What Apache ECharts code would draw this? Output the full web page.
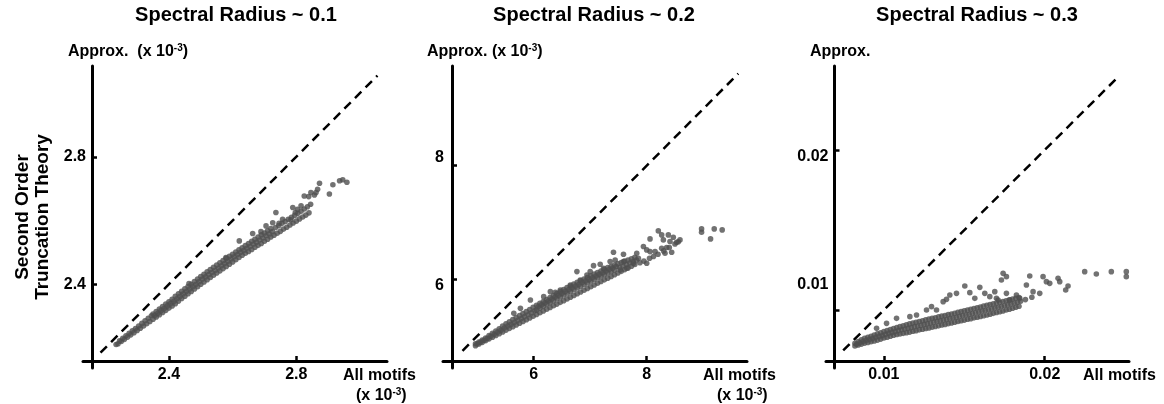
<!DOCTYPE html>
<html>
<head>
<meta charset="utf-8">
<script src="https://cdn.jsdelivr.net/npm/echarts@6.0.0/dist/echarts.min.js"></script>
<style>
  html, body { margin: 0; padding: 0; background: #fff; }
  #chart { width: 1164px; height: 404px; }
</style>
</head>
<body>
<div id="chart"></div>
<script>
const FONT = '"Liberation Sans", Arial, Helvetica, sans-serif';

// titles and axis texts
const titles = ['Spectral Radius ~ 0.1', 'Spectral Radius ~ 0.2', 'Spectral Radius ~ 0.3'];
const yNames = ['Approx.  (x 10', 'Approx. (x 10', 'Approx.'];
const xUnits = ['(x 10', '(x 10', ''];

// axis ranges (x 10^-3 for the first two panels)
const xRange1 = [2.130, 3.085], yRange1 = [2.137, 3.085];
const xRange2 = [4.395, 9.775], yRange2 = [4.438, 9.755];
const xRange3 = [0.0064, 0.02524], yRange3 = [0.006375, 0.02525];

// ticks and tick labels
const ticks1 = [2.4, 2.8], tickLabels1 = ['2.4', '2.8'], yLabelPos1 = [2.4, 2.8];
const ticks2 = [6, 8], tickLabels2 = ['6', '8'], yLabelPos2 = [5.882, 8.136];
const ticks3 = [0.01, 0.02], tickLabels3 = ['0.01', '0.02'], yLabelPos3 = [0.01156, 0.01958];

// identity reference lines (start, end)
const diag1 = [2.185, 3.055];
const diag2 = [4.74, 9.62];
const diag3 = [0.00747, 0.02462];

// [all motifs, approx]  spectral radius ~ 0.1
const pts1 = [
  [2.234,2.211],
  [2.24,2.213],[2.245,2.222],[2.25,2.220],[2.255,2.230],[2.26,2.227],[2.265,2.238],
  [2.27,2.234],[2.275,2.246],[2.28,2.241],[2.285,2.254],[2.29,2.248],[2.295,2.261],
  [2.30,2.255],[2.305,2.269],[2.31,2.262],[2.315,2.277],[2.32,2.269],[2.325,2.285],
  [2.33,2.276],[2.335,2.293],[2.34,2.283],[2.345,2.301],
  [2.35,2.290],[2.355,2.302],[2.35,2.306],
  [2.36,2.297],[2.365,2.309],[2.36,2.314],
  [2.37,2.304],[2.375,2.317],[2.37,2.322],
  [2.38,2.311],[2.385,2.324],[2.38,2.330],
  [2.39,2.318],[2.395,2.332],[2.39,2.338],
  [2.40,2.325],[2.405,2.339],[2.40,2.345],
  [2.41,2.332],[2.415,2.346],[2.41,2.353],
  [2.42,2.339],[2.425,2.354],[2.42,2.362],
  [2.43,2.347],[2.435,2.362],[2.43,2.370],
  [2.44,2.355],[2.445,2.370],[2.44,2.378],
  [2.45,2.362],[2.455,2.378],[2.45,2.386],
  [2.46,2.370],[2.465,2.385],[2.46,2.393],
  [2.47,2.377],[2.475,2.392],[2.47,2.400],
  [2.48,2.385],[2.485,2.400],[2.48,2.408],
  [2.49,2.392],[2.495,2.408],[2.49,2.416],
  [2.50,2.400],[2.505,2.416],[2.50,2.424],
  [2.51,2.407],[2.515,2.423],[2.51,2.431],
  [2.52,2.414],[2.525,2.430],[2.52,2.439],
  [2.53,2.421],[2.535,2.437],[2.53,2.446],
  [2.54,2.428],[2.545,2.444],[2.54,2.453],
  [2.55,2.435],[2.555,2.451],[2.55,2.460],
  [2.56,2.442],[2.565,2.458],[2.56,2.467],
  [2.57,2.449],[2.575,2.465],[2.57,2.474],
  [2.58,2.456],[2.585,2.472],[2.58,2.481],
  [2.59,2.463],[2.595,2.479],[2.59,2.488],
  [2.60,2.470],[2.605,2.486],[2.60,2.494],
  [2.61,2.477],[2.615,2.493],[2.61,2.501],
  [2.62,2.484],[2.625,2.500],[2.62,2.508],
  [2.63,2.491],[2.635,2.506],[2.63,2.514],
  [2.64,2.497],[2.645,2.513],[2.64,2.521],
  [2.65,2.503],[2.655,2.519],[2.65,2.528],
  [2.66,2.509],[2.665,2.526],[2.66,2.535],
  [2.67,2.516],[2.675,2.532],[2.67,2.541],
  [2.68,2.522],[2.685,2.539],[2.68,2.548],
  [2.69,2.528],[2.695,2.545],[2.69,2.555],
  [2.70,2.535],[2.705,2.552],[2.70,2.561],
  [2.71,2.541],[2.715,2.558],[2.71,2.568],
  [2.72,2.548],[2.725,2.565],[2.72,2.575],
  [2.73,2.554],[2.735,2.578],[2.74,2.560],[2.745,2.584],
  [2.75,2.566],[2.755,2.591],[2.76,2.573],[2.765,2.597],
  [2.77,2.579],[2.775,2.604],[2.78,2.586],[2.785,2.610],
  [2.79,2.592],[2.795,2.616],[2.80,2.598],[2.805,2.623],
  [2.81,2.605],[2.815,2.629],[2.82,2.611],[2.825,2.636],
  [2.83,2.617],[2.835,2.643],[2.84,2.624],[2.845,2.651],
  [2.959,2.720],[2.946,2.728],[2.936,2.725],[2.915,2.712],[2.904,2.683],
  [2.873,2.717],[2.867,2.698],[2.857,2.680],[2.846,2.688],[2.839,2.675],
  [2.862,2.688],[2.825,2.677],[2.815,2.646],[2.804,2.635],[2.797,2.625],
  [2.789,2.641],[2.783,2.602],[2.757,2.604],[2.746,2.591],[2.736,2.625],
  [2.726,2.593],[2.705,2.583],[2.689,2.565],[2.663,2.559],[2.621,2.536],
  [2.579,2.484],[2.463,2.402]
];

// spectral radius ~ 0.2
const pts2 = [
  [4.97,4.829],[5.00,4.863],[4.97,4.865],
  [5.03,4.860],[5.06,4.895],[5.03,4.897],
  [5.09,4.890],[5.12,4.926],[5.09,4.930],
  [5.15,4.920],[5.18,4.959],[5.15,4.965],
  [5.21,4.951],[5.24,4.997],[5.21,5.010],
  [5.27,4.981],[5.30,5.032],[5.27,5.050],
  [5.33,5.012],[5.36,5.067],[5.33,5.090],
  [5.39,5.043],[5.42,5.103],[5.39,5.130],
  [5.45,5.074],[5.48,5.141],[5.45,5.175],
  [5.51,5.105],[5.54,5.176],[5.51,5.215],
  [5.57,5.136],[5.60,5.209],[5.57,5.250],
  [5.63,5.166],[5.66,5.244],[5.63,5.290],
  [5.69,5.197],[5.72,5.277],[5.69,5.325],
  [5.75,5.227],[5.78,5.310],[5.75,5.360],
  [5.81,5.258],[5.84,5.343],[5.81,5.395],
  [5.87,5.288],[5.90,5.375],[5.87,5.430],
  [5.93,5.319],[5.96,5.408],[5.93,5.465],
  [5.99,5.350],[6.02,5.444],[5.99,5.505],
  [6.05,5.380],[6.05,5.460],[6.05,5.540],[6.08,5.516],
  [6.11,5.411],[6.11,5.493],[6.11,5.575],[6.14,5.550],
  [6.17,5.441],[6.17,5.526],[6.17,5.610],[6.20,5.584],
  [6.23,5.472],[6.23,5.559],[6.23,5.645],[6.26,5.618],
  [6.29,5.502],[6.29,5.591],[6.29,5.680],[6.32,5.652],
  [6.35,5.533],[6.35,5.624],[6.35,5.715],[6.38,5.686],
  [6.41,5.563],[6.41,5.657],[6.41,5.750],[6.44,5.720],
  [6.47,5.594],[6.47,5.690],[6.47,5.785],[6.50,5.754],
  [6.53,5.624],[6.53,5.722],[6.53,5.820],[6.56,5.787],
  [6.59,5.655],[6.59,5.755],[6.59,5.855],[6.62,5.821],
  [6.65,5.685],[6.65,5.783],[6.65,5.880],[6.68,5.848],
  [6.71,5.716],[6.71,5.816],[6.71,5.915],[6.74,5.882],
  [6.77,5.746],[6.77,5.846],[6.77,5.945],[6.80,5.912],
  [6.83,5.777],[6.83,5.876],[6.83,5.975],[6.86,5.942],
  [6.89,5.807],[6.89,5.906],[6.89,6.005],[6.92,5.972],
  [6.95,5.838],[6.95,5.934],[6.95,6.030],[6.98,5.998],
  [7.01,5.868],[7.01,5.964],[7.01,6.060],[7.04,6.028],
  [7.07,5.899],[7.07,5.995],[7.07,6.090],[7.10,6.059],
  [7.13,5.929],[7.13,6.025],[7.13,6.120],[7.16,6.089],
  [7.19,5.960],[7.19,6.053],[7.19,6.145],[7.22,6.115],
  [7.25,5.990],[7.25,6.083],[7.25,6.175],[7.28,6.145],
  [7.31,6.020],[7.31,6.113],[7.31,6.205],[7.34,6.175],
  [7.37,6.050],[7.37,6.138],[7.37,6.225],[7.40,6.198],
  [7.43,6.080],[7.43,6.165],[7.43,6.250],[7.46,6.224],
  [7.49,6.110],[7.52,6.209],[7.49,6.275],
  [7.55,6.140],[7.58,6.234],[7.55,6.295],
  [7.61,6.170],[7.64,6.261],[7.61,6.320],
  [7.67,6.200],[7.70,6.286],[7.67,6.340],
  [7.73,6.230],[7.76,6.311],[7.73,6.360],
  [7.79,6.260],[7.82,6.339],[7.79,6.385],
  [7.88,6.29],[7.95,6.32],[8.05,6.37],[8.12,6.40],[8.20,6.44],
  [8.30,6.50],[8.40,6.56],[8.50,6.62],[8.56,6.66],
  [8.206,6.852],[8.383,6.781],[8.471,6.740],[8.589,6.693],[8.530,6.652],
  [8.059,6.711],[8.295,6.693],[8.265,6.546],[8.324,6.458],[8.442,6.476],
  [8.353,6.558],[8.148,6.487],[7.942,6.576],[8.000,6.517],[7.824,6.458],
  [7.853,6.370],[7.765,6.282],[7.589,6.440],[7.412,6.476],[7.442,6.340],
  [7.589,6.311],[7.177,6.264],[7.059,6.240],[6.765,6.135],[6.942,6.076],
  [6.648,5.899],[6.383,5.770],[6.295,5.782],[5.942,5.635],[5.648,5.400],
  [8.000,6.282],[7.530,6.164],[7.648,6.193],[8.059,6.487],[8.412,6.664],
  [8.265,6.781],
  [5.765,5.488],[6.177,5.694],[6.471,5.811],[6.824,5.988],[7.000,6.135],
  [7.236,6.193],[7.353,6.311],
  [8.971,6.887],[8.971,6.828],[9.195,6.887],[9.336,6.869],[9.130,6.711]
];

// spectral radius ~ 0.3
const pts3 = [
  [0.0082,0.00775],[0.0083,0.00786],[0.0082,0.00792],
  [0.0084,0.00781],[0.0085,0.00795],[0.0084,0.00803],
  [0.0086,0.00787],[0.0087,0.00803],[0.0086,0.00813],
  [0.0088,0.00793],[0.0089,0.00811],[0.0088,0.00823],
  [0.0090,0.00797],[0.0091,0.00817],[0.0090,0.00830],
  [0.0092,0.00802],[0.0093,0.00822],[0.0092,0.00836],
  [0.0094,0.00807],[0.0095,0.00829],[0.0094,0.00844],
  [0.0096,0.00812],[0.0097,0.00835],[0.0096,0.00851],
  [0.0098,0.00818],[0.0099,0.00841],[0.0098,0.00858],
  [0.0100,0.00825],[0.0101,0.00848],[0.0100,0.00865],
  [0.0102,0.00830],[0.0103,0.00854],[0.0102,0.00871],
  [0.0104,0.00836],[0.0105,0.00860],[0.0104,0.00878],
  [0.0106,0.00842],[0.0107,0.00866],[0.0106,0.00884],
  [0.0108,0.00847],[0.0109,0.00872],[0.0108,0.00890],
  [0.0110,0.00850],[0.0111,0.00876],[0.0110,0.00896],
  [0.0112,0.00854],[0.0113,0.00881],[0.0112,0.00902],
  [0.0114,0.00858],[0.0115,0.00886],[0.0114,0.00908],
  [0.0116,0.00862],[0.0117,0.00891],[0.0116,0.00913],
  [0.0118,0.00867],[0.0119,0.00896],[0.0118,0.00918],
  [0.0120,0.00871],[0.0121,0.00900],[0.0120,0.00923],
  [0.0122,0.00876],[0.0123,0.00905],[0.0122,0.00928],
  [0.0124,0.00880],[0.0125,0.00910],[0.0124,0.00933],
  [0.0126,0.00884],[0.0127,0.00914],[0.0126,0.00938],
  [0.0128,0.00888],[0.0129,0.00919],[0.0128,0.00943],
  [0.0130,0.00893],[0.0131,0.00924],[0.0130,0.00948],
  [0.0132,0.00897],[0.0133,0.00928],[0.0132,0.00952],
  [0.0134,0.00901],[0.0135,0.00932],[0.0134,0.00957],
  [0.0136,0.00906],[0.0137,0.00937],[0.0136,0.00962],
  [0.0138,0.00910],[0.0139,0.00941],[0.0138,0.00966],
  [0.0140,0.00915],[0.0141,0.00946],[0.0140,0.00971],
  [0.0142,0.00919],[0.0143,0.00950],[0.0142,0.00975],
  [0.0144,0.00924],[0.0145,0.00955],[0.0144,0.00980],
  [0.0146,0.00928],[0.0147,0.00960],[0.0146,0.00985],
  [0.0148,0.00933],[0.0149,0.00965],[0.0148,0.00990],
  [0.0150,0.00937],[0.0151,0.00969],[0.0150,0.00995],
  [0.0152,0.00942],[0.0153,0.00973],[0.0152,0.00999],
  [0.0154,0.00946],[0.0155,0.00978],[0.0154,0.01004],
  [0.0156,0.00951],[0.0157,0.00983],[0.0156,0.01009],
  [0.0158,0.00955],[0.0159,0.00988],[0.0158,0.01014],
  [0.0160,0.00960],[0.0161,0.00993],[0.0160,0.01019],
  [0.0162,0.00964],[0.0163,0.00997],[0.0162,0.01024],
  [0.0164,0.00969],[0.0165,0.01002],[0.0164,0.01029],
  [0.0166,0.00974],[0.0167,0.01007],[0.0166,0.01034],
  [0.0168,0.00979],[0.0169,0.01012],[0.0168,0.01038],
  [0.0170,0.00984],[0.0171,0.01017],[0.0170,0.01043],
  [0.0172,0.00989],[0.0173,0.01022],[0.0172,0.01048],
  [0.0174,0.00994],[0.0175,0.01027],[0.0174,0.01053],
  [0.0176,0.01000],[0.0177,0.01032],[0.0176,0.01058],
  [0.0178,0.01005],[0.0179,0.01037],[0.0178,0.01063],
  [0.0180,0.01011],[0.0181,0.01043],[0.0180,0.01068],
  [0.0182,0.01017],[0.0183,0.01048],[0.0182,0.01073],
  [0.0184,0.01023],[0.0185,0.01054],[0.0184,0.01078],
  [0.0188,0.01065],[0.0192,0.0108],
  [0.017412,0.012292],[0.017619,0.012083],[0.017308,0.011875],[0.019068,0.012125],
  [0.019896,0.012083],[0.018861,0.011563],[0.019275,0.011146],[0.019689,0.011042],
  [0.020311,0.011667],[0.020104,0.011771],[0.020828,0.011979],[0.020932,0.011771],
  [0.02145,0.0115],[0.021304,0.01125],[0.015031,0.0115],[0.015963,0.011417],
  [0.014099,0.010938],[0.012961,0.010208],[0.014514,0.011042],[0.013685,0.010521],
  [0.016894,0.011146],[0.016584,0.010833],[0.01824,0.010938],[0.018447,0.010729],
  [0.017826,0.010625],[0.012029,0.009688],[0.010787,0.009479],[0.017101,0.010625],
  [0.011615,0.009583],[0.01265,0.01],[0.013271,0.01],[0.013892,0.010667],
  [0.015342,0.011083],[0.015652,0.010729],[0.016273,0.011042],[0.016998,0.010729],
  [0.017619,0.011042],[0.010166,0.009167],[0.009545,0.008854],
  [0.022485,0.012396],[0.023209,0.01225],[0.024141,0.012396],[0.025073,0.012396],
  [0.025073,0.012083]
];

const panels = [
  { grid: { left: 83, top: 66, width: 304, height: 302 }, yOff: -9,
    xRange: xRange1, yRange: yRange1, ticks: ticks1, labels: tickLabels1, yLabelPos: yLabelPos1,
    diag: diag1, pts: pts1, yLabelMargin: 6 },
  { grid: { left: 443, top: 66, width: 304, height: 302 }, yOff: -9,
    xRange: xRange2, yRange: yRange2, ticks: ticks2, labels: tickLabels2, yLabelPos: yLabelPos2,
    diag: diag2, pts: pts2, yLabelMargin: 8 },
  { grid: { left: 826, top: 66, width: 303, height: 302 }, yOff: -8.5,
    xRange: xRange3, yRange: yRange3, ticks: ticks3, labels: tickLabels3, yLabelPos: yLabelPos3,
    diag: diag3, pts: pts3, yLabelMargin: 6 }
];

const labelFont = { color: '#000', fontFamily: FONT, fontWeight: 'bold', fontSize: 16 };

const grids = [], xAxes = [], yAxes = [], series = [];
panels.forEach((p, i) => {
  grids.push(p.grid);
  xAxes.push({
    type: 'value', gridIndex: i, min: p.xRange[0], max: p.xRange[1],
    position: 'bottom', offset: -7,
    axisLine: { onZero: false, lineStyle: { color: '#000', width: 3 } },
    axisTick: { inside: true, length: 5, customValues: p.ticks, lineStyle: { color: '#000', width: 2.5 } },
    axisLabel: Object.assign({ margin: 6, customValues: p.ticks,
      formatter: v => p.labels[p.ticks.findIndex(t => Math.abs(t - v) < 1e-9)] }, labelFont),
    splitLine: { show: false }
  });
  yAxes.push({
    type: 'value', gridIndex: i, min: p.yRange[0], max: p.yRange[1],
    position: 'left', offset: p.yOff,
    axisLine: { onZero: false, lineStyle: { color: '#000', width: 3 } },
    axisTick: { inside: true, length: 5, customValues: p.ticks, lineStyle: { color: '#000', width: 2.5 } },
    axisLabel: Object.assign({ margin: p.yLabelMargin, customValues: p.yLabelPos,
      formatter: v => p.labels[p.yLabelPos.findIndex(t => Math.abs(t - v) < 1e-9)] }, labelFont),
    splitLine: { show: false }
  });
  series.push({
    type: 'scatter', xAxisIndex: i, yAxisIndex: i, data: p.pts,
    symbolSize: 5.6, itemStyle: { color: '#4f4f4f' }, silent: true
  });
  series.push({
    type: 'line', xAxisIndex: i, yAxisIndex: i,
    data: [[p.diag[0], p.diag[0]], [p.diag[1], p.diag[1]]],
    symbol: 'none', silent: true,
    lineStyle: { color: '#000', width: 2.5, type: [9, 6] }
  });
});

function txt(x, y, text, opts) {
  return Object.assign({ type: 'text', x: x, y: y, silent: true,
    style: Object.assign({ text: text, fill: '#000', font: 'bold 16px ' + FONT,
      align: 'left', textAlign: 'left', verticalAlign: 'middle', textVerticalAlign: 'middle' }, opts || {}) });
}
function supText(x, y, base, after) {
  return txt(x, y, '{a|' + base + '}{s|-3}{a|' + after + '}', {
    rich: {
      a: { fontSize: 16, fontWeight: 'bold', fontFamily: FONT, fill: '#000', color: '#000', lineHeight: 18 },
      s: { fontSize: 10, fontWeight: 'bold', fontFamily: FONT, fill: '#000', color: '#000', verticalAlign: 'top', lineHeight: 18 }
    }
  });
}

const titleX = [236, 594, 977];
const graphics = [];
titles.forEach((t, i) => {
  graphics.push(txt(titleX[i], 15, t, { font: 'bold 20px ' + FONT, align: 'center', textAlign: 'center' }));
});
// y axis names
graphics.push(supText(68, 52, yNames[0], ')'));
graphics.push(supText(427, 52, yNames[1], ')'));
graphics.push(txt(810, 52, yNames[2]));
// x axis names
graphics.push(txt(343, 376, 'All motifs'));
graphics.push(supText(356, 396, xUnits[0], ')'));
graphics.push(txt(703, 376, 'All motifs'));
graphics.push(supText(717, 396, xUnits[1], ')'));
graphics.push(txt(1083, 376, 'All motifs'));
// shared left label
graphics.push({
  type: 'text', x: 33, y: 217, rotation: Math.PI / 2, silent: true,
  style: { text: 'Second Order\nTruncation Theory', fill: '#000', font: 'bold 19px ' + FONT,
    align: 'center', textAlign: 'center', verticalAlign: 'middle', textVerticalAlign: 'middle', lineHeight: 20 }
});

const chart = echarts.init(document.getElementById('chart'));
chart.setOption({
  animation: false,
  backgroundColor: '#fff',
  grid: grids,
  xAxis: xAxes,
  yAxis: yAxes,
  series: series,
  graphic: { elements: graphics }
});
</script>
</body>
</html>
